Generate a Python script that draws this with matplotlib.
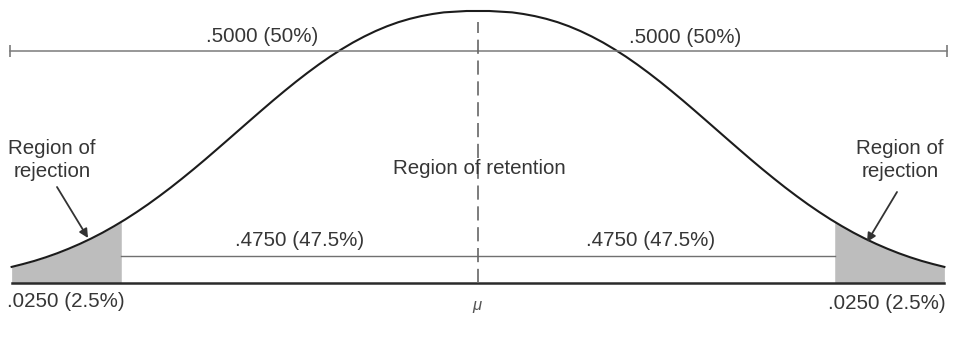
import numpy as np
import matplotlib.pyplot as plt

# two-tailed test at alpha = .05 (x axis in z units, curve symmetric about mu)
mu = 0.0
z_crit = 1.96
area_half = 0.5000
area_inner = 0.4750
area_tail = 0.0250

# right half of the curve: z and height (density units), step 1/16
z_step = 0.0625
dens_pts = [0.3990, 0.3990, 0.3980, 0.3970, 0.3946, 0.3915, 0.3875, 0.3826,
            0.3766, 0.3696, 0.3616, 0.3527, 0.3428, 0.3321, 0.3205, 0.3082,
            0.2953, 0.2818, 0.2679, 0.2536, 0.2391, 0.2245, 0.2099, 0.1954,
            0.1810, 0.1670, 0.1534, 0.1402, 0.1276, 0.1155, 0.1041, 0.0933,
            0.0833, 0.0739, 0.0653, 0.0574, 0.0502, 0.0436, 0.0377, 0.0324,
            0.0278, 0.0236]

def prop_label(a):
    return '{:.4f}'.format(a).lstrip('0') + ' ({:g}%)'.format(a * 100)

# pixel layout of the figure (955 x 339)
W, H = 955, 339
CX, BASE, PEAK = 478, 283, 11
PX_PER_Z = 182.0
PX_PER_Y = (BASE - PEAK) / dens_pts[0]

def to_data(xp, yp):
    return (xp - CX) / PX_PER_Z, (BASE - yp) / PX_PER_Y

fig = plt.figure(figsize=(W / 100, H / 100), dpi=100)
ax = fig.add_axes([0, 0, 1, 1])
x0, y1 = to_data(0, 0)
x1, y0 = to_data(W, H)
ax.set_xlim(x0, x1)
ax.set_ylim(y0, y1)
ax.axis('off')

dr = np.array(dens_pts)
zr = np.arange(len(dr)) * z_step
z = np.concatenate([mu - zr[::-1], mu + zr[1:]])
dens = np.concatenate([dr[::-1], dr[1:]])

# shaded rejection tails
shade = '#bdbdbd'
h_cut = np.interp(z_crit, zr, dr)
left = z <= mu - z_crit
right = z >= mu + z_crit
ax.fill_between(np.r_[z[left], mu - z_crit], 0, np.r_[dens[left], h_cut],
                color=shade, lw=0)
ax.fill_between(np.r_[mu + z_crit, z[right]], 0, np.r_[h_cut, dens[right]],
                color=shade, lw=0)

ax.plot(z, dens, color='#1c1c1c', lw=1.5, solid_joinstyle='round')
ax.plot([z[0], z[-1]], [0, 0], color='#2a2a2a', lw=1.8)

# bracket over each half of the curve
xl, y_top = to_data(10, 51)
xr, _ = to_data(947, 51)
ax.plot([xl, xr], [y_top, y_top], color='#7a7a7a', lw=1.1,
        marker='|', markersize=9, markeredgewidth=1.2, markevery=[0, 1])

# line across the region of retention
_, y_in = to_data(0, 256)
ax.plot([mu - z_crit, mu + z_crit], [y_in, y_in], color='#707070', lw=1.0)

# mean
_, y_dash = to_data(0, 22)
ax.plot([mu, mu], [0, y_dash], color='#666666', lw=1.2, linestyle=(0, (8.5, 4)))

txt = dict(family='Liberation Sans', fontsize=14.8, color='#363636')

ax.text(*to_data(262, 42), prop_label(area_half), ha='center', va='baseline', **txt)
ax.text(*to_data(685, 43), prop_label(area_half), ha='center', va='baseline', **txt)
ax.text(*to_data(300, 246), prop_label(area_inner), ha='center', va='baseline', **txt)
ax.text(*to_data(651, 246), prop_label(area_inner), ha='center', va='baseline', **txt)
ax.text(*to_data(7, 307), prop_label(area_tail), ha='left', va='baseline', **txt)
ax.text(*to_data(946, 309), prop_label(area_tail), ha='right', va='baseline', **txt)
ax.text(*to_data(477, 310), 'μ', ha='center', va='baseline', family='Liberation Sans',
        style='italic', fontsize=12, color='#555555')

ax.text(*to_data(52, 177), 'Region of\nrejection', ha='center', va='baseline',
        linespacing=1.25, **txt)
ax.text(*to_data(900, 177), 'Region of\nrejection', ha='center', va='baseline',
        linespacing=1.25, **txt)
ax.text(*to_data(479, 174), 'Region of retention', ha='center', va='baseline', **txt)

arrow = dict(arrowstyle='-|>', color='#333333', lw=1.3, mutation_scale=13,
             shrinkA=0, shrinkB=0)
ax.annotate('', xy=to_data(88, 238), xytext=to_data(57, 187), arrowprops=arrow)
ax.annotate('', xy=to_data(867, 242), xytext=to_data(897, 192), arrowprops=arrow)

fig.savefig('out.png', dpi=100, facecolor='white')
